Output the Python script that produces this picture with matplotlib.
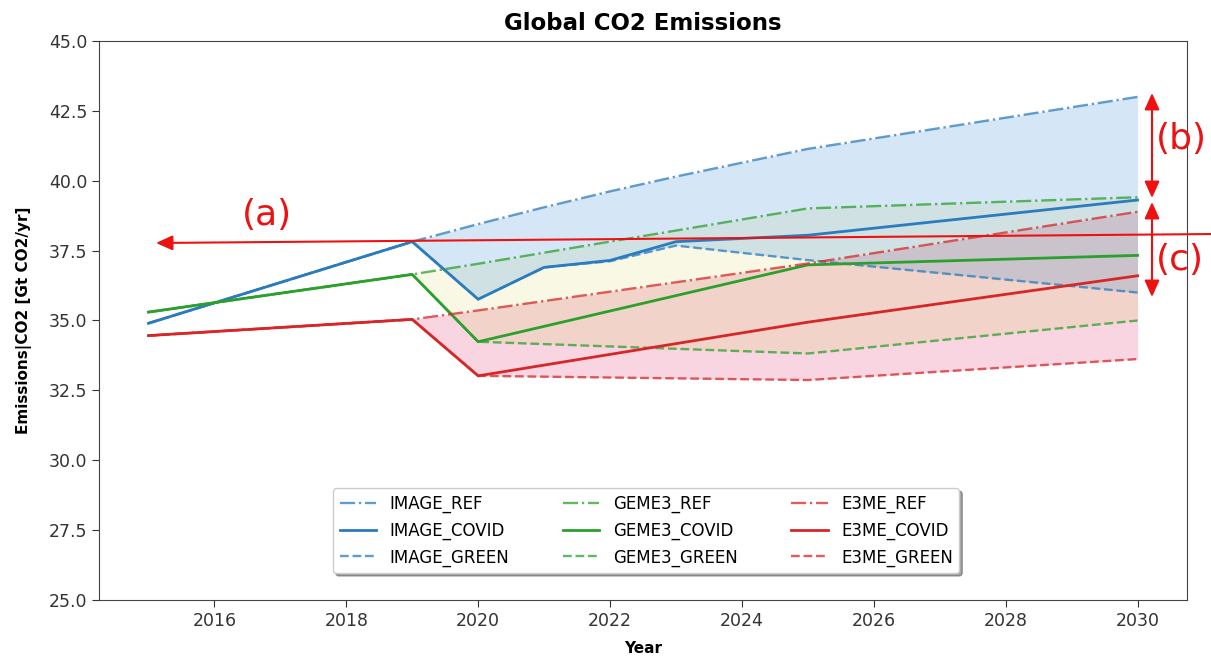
import matplotlib
matplotlib.use("Agg")
import matplotlib.pyplot as plt

# ---- data ----
image_years = [2015, 2019, 2020, 2021, 2022, 2023, 2025, 2030]
image_ref   = [34.90, 37.82, 38.45, 39.05, 39.62, 40.15, 41.14, 43.00]
image_covid = [34.90, 37.82, 35.76, 36.90, 37.15, 37.82, 38.05, 39.31]
image_green = [34.90, 37.82, 35.76, 36.90, 37.12, 37.68, 37.16, 36.00]

geme3_years = [2015, 2019, 2020, 2025, 2030]
geme3_ref   = [35.30, 36.65, 37.03, 39.01, 39.41]
geme3_covid = [35.30, 36.65, 34.24, 36.99, 37.33]
geme3_green = [35.30, 36.65, 34.24, 33.82, 35.00]

e3me_years = [2015, 2019, 2020, 2025, 2030]
e3me_ref   = [34.46, 35.04, 35.36, 37.04, 38.89]
e3me_covid = [34.46, 35.04, 33.02, 34.94, 36.60]
e3me_green = [34.46, 35.04, 33.02, 32.87, 33.62]

models = ["IMAGE", "GEME3", "E3ME"]
title = "Global CO2 Emissions"
xlabel = "Year"
ylabel = "Emissions|CO2 [Gt CO2/yr]"

# ---- figure ----
W, H = 1211, 658
fig = plt.figure(figsize=(W / 100, H / 100), dpi=100)
ax = fig.add_axes([99 / W, 1 - 600 / H, (1187 - 99) / W, (600 - 41) / H])

line_colors = {"IMAGE": "#2b7bbd", "GEME3": "#2ca02c", "E3ME": "#d62728"}
fill_colors = {"IMAGE": ("#2f86d6", 0.2), "GEME3": ("#c2c200", 0.1), "E3ME": ("#e0306a", 0.2)}
data = {
    "IMAGE": (image_years, image_ref, image_covid, image_green),
    "GEME3": (geme3_years, geme3_ref, geme3_covid, geme3_green),
    "E3ME": (e3me_years, e3me_ref, e3me_covid, e3me_green),
}

for m in models:
    yrs, ref, cov, grn = data[m]
    c = line_colors[m]
    ax.plot(yrs, ref, color=c, ls="-.", lw=1.7, alpha=0.75, label=f"{m}_REF")
    ax.plot(yrs, cov, color=c, ls="-", lw=2.0, label=f"{m}_COVID")
    ax.plot(yrs, grn, color=c, ls="--", lw=1.7, alpha=0.75, label=f"{m}_GREEN")

for m in ["E3ME", "GEME3", "IMAGE"]:
    yrs, ref, cov, grn = data[m]
    fc, fa = fill_colors[m]
    ax.fill_between(yrs, ref, grn, color=fc, alpha=fa, lw=0)

ax.set_ylim(25, 45)
ax.set_xlim(2014.25, 2030.75)
ax.set_xticks(range(2016, 2031, 2))
ax.set_yticks([25 + 2.5 * i for i in range(9)])
ax.set_yticklabels([f"{25 + 2.5 * i:.1f}" for i in range(9)])
ax.tick_params(labelsize=12.5, colors="#333333", length=5)
for s in ax.spines.values():
    s.set_color("#444444")
ax.set_title(title, fontsize=16.5, fontweight="bold", pad=8)
ax.set_xlabel(xlabel, fontsize=11, fontweight="bold", labelpad=8)
ax.set_ylabel(ylabel, fontsize=11, fontweight="bold", labelpad=12)

leg = ax.legend(ncol=3, loc="lower center", bbox_to_anchor=(0.503, 0.048),
                borderaxespad=0, fontsize=12, shadow=True, fancybox=True,
                columnspacing=3.2, handlelength=2.2)

# ---- red annotations (figure pixel coordinates, origin top-left converted) ----
red = "#ee1111"
def fp(x, y):
    return (x, H - y)

ax.annotate("", xy=fp(156, 243), xycoords="figure pixels",
            xytext=fp(1215, 234), textcoords="figure pixels",
            arrowprops=dict(arrowstyle="-|>,head_length=1.0,head_width=0.45",
                            color=red, lw=1.5, shrinkA=0, shrinkB=0),
            annotation_clip=False)
ax.annotate("", xy=fp(1152, 93), xycoords="figure pixels",
            xytext=fp(1152, 198), textcoords="figure pixels",
            arrowprops=dict(arrowstyle="<|-|>,head_length=1.0,head_width=0.45",
                            color=red, lw=1.5, shrinkA=0, shrinkB=0),
            annotation_clip=False)
ax.annotate("", xy=fp(1152, 202), xycoords="figure pixels",
            xytext=fp(1152, 297), textcoords="figure pixels",
            arrowprops=dict(arrowstyle="<|-|>,head_length=1.0,head_width=0.45",
                            color=red, lw=1.5, shrinkA=0, shrinkB=0),
            annotation_clip=False)
fig.text(267 / W, 1 - 215 / H, "(a)", color=red, fontsize=26, ha="center", va="center")
fig.text(1156 / W, 1 - 139 / H, "(b)", color=red, fontsize=26, ha="left", va="center")
fig.text(1156 / W, 1 - 260 / H, "(c)", color=red, fontsize=26, ha="left", va="center")

fig.savefig("out.png", dpi=100)
